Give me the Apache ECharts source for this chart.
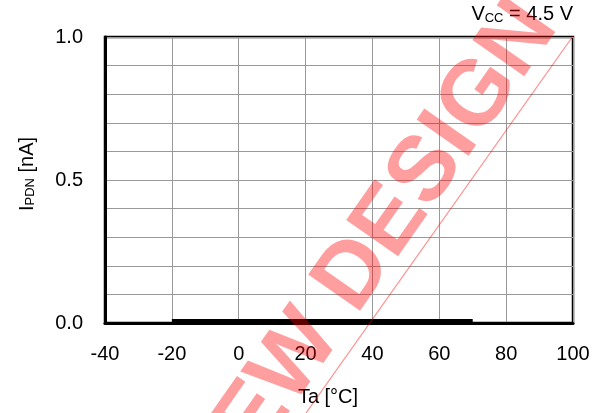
<!DOCTYPE html>
<html>
<head>
<meta charset="utf-8">
<script src="https://cdn.jsdelivr.net/npm/echarts@6/dist/echarts.min.js"></script>
<style>html,body{margin:0;padding:0;background:#fff;}#c{width:603px;height:413px;}</style>
</head>
<body>
<div id="c"></div>
<script>
// Data
const temps = [-20, 0, 20, 40, 60, 70];
const ipdn = [0.008, 0.008, 0.008, 0.008, 0.008, 0.008];
const xTicks = [-40, -20, 0, 20, 40, 60, 80, 100];
const yTickLabels = [0.0, 0.5, 1.0];
const conditionLabel = 'V{sub|CC} = 4.5 V';
const watermark = 'NEW DESIGN';

const FONT = '"Liberation Sans", Arial, sans-serif';
const chart = echarts.init(document.getElementById('c'), null, {renderer: 'canvas'});
const rot = 55 * Math.PI / 180;
chart.setOption({
  animation: false,
  backgroundColor: '#fff',
  grid: {left: 105, right: 30, top: 37, bottom: 90, show: true, borderColor: '#000', borderWidth: 2.5, backgroundColor: 'transparent'},
  xAxis: {
    type: 'value', min: xTicks[0], max: xTicks[xTicks.length - 1], interval: 20,
    axisLine: {show: true, onZero: false, lineStyle: {color: '#000', width: 3}},
    axisTick: {show: false},
    splitLine: {show: true, lineStyle: {color: '#999', width: 1}},
    axisLabel: {color: '#000', fontSize: 20, fontFamily: FONT, margin: 21},
    name: 'Ta [°C]', nameLocation: 'middle', nameGap: 64,
    nameTextStyle: {color: '#000', fontSize: 20, fontFamily: FONT, padding: [0, 22, 0, 0]}
  },
  yAxis: {
    type: 'value', min: 0, max: 1, interval: 0.1,
    axisLine: {show: true, onZero: false, lineStyle: {color: '#000', width: 3}},
    axisTick: {show: false},
    splitLine: {show: true, lineStyle: {color: '#999', width: 1}},
    axisLabel: {
      color: '#000', fontSize: 20, fontFamily: FONT, margin: 22, padding: [7, 0, 0, 0],
      formatter: function (v) {
        for (const t of yTickLabels) { if (Math.abs(v - t) < 1e-6) return t.toFixed(1); }
        return '';
      }
    },
    name: 'I{sub|PDN} [nA]', nameLocation: 'middle', nameGap: 68, nameRotate: 90,
    nameTextStyle: {color: '#000', fontSize: 20, fontFamily: FONT, padding: [0, 0, 0, 12],
      rich: {sub: {fontSize: 13, fontFamily: FONT, color: '#000', verticalAlign: 'bottom', padding: [7, 0, 0, 0]}}}
  },
  series: [{
    type: 'line', data: temps.map((t, i) => [t, ipdn[i]]),
    showSymbol: false, symbol: 'none',
    lineStyle: {color: '#000', width: 3.5}, z: 3
  }],
  graphic: [
    {type: 'text', right: 30, top: 4, z: 10,
      style: {text: conditionLabel, fill: '#000', font: '20px ' + FONT,
        rich: {sub: {fontSize: 13, fontFamily: FONT, fill: '#000', verticalAlign: 'bottom', padding: [8, 0, 0, 0]}}}},
    {type: 'text', x: 368, y: 255, rotation: rot, z: 20, silent: true,
      style: {text: watermark, fill: 'rgba(255,0,0,0.38)', font: 'bold 92px ' + FONT, align: 'center', verticalAlign: 'middle'}},
    {type: 'line', z: 20, silent: true,
      shape: {x1: 573, y1: 36, x2: 306, y2: 413},
      style: {stroke: 'rgba(255,0,0,0.45)', lineWidth: 1.2}}
  ]
});
</script>
</body>
</html>
